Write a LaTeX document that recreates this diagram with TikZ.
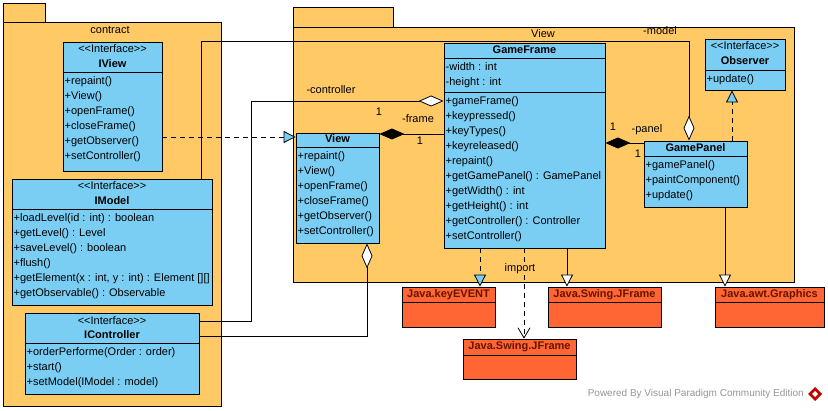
\documentclass[tikz,border=0pt]{standalone}
\usepackage{fontspec}
\setmainfont{Liberation Sans}
\usetikzlibrary{arrows.meta, fit, positioning}
\definecolor{pkgorange}{RGB}{255,202,102}
\definecolor{clsblue}{RGB}{122,206,244}
\definecolor{libred}{RGB}{255,102,51}
\definecolor{libtext}{RGB}{100,20,0}
\definecolor{footgray}{RGB}{150,150,150}
\newcommand{\intf}{<\kern0pt<Interface>\kern0pt>}

\begin{document}
\begin{tikzpicture}[x=1pt, y=-1pt, font=\fontsize{11}{13}\selectfont]
        % Define styles
        \tikzset{
            pkg/.style={draw, fill=pkgorange, line width=0.8pt, inner sep=0pt},
            cls/.style={draw, fill=clsblue, line width=0.8pt, inner sep=0pt},
            lib/.style={draw, fill=libred, line width=0.8pt, inner sep=0pt},
            txt/.style={inner sep=0pt, text height=8pt, text depth=2.5pt},
            meth/.style={txt, anchor=west},
            title/.style={txt, font=\fontsize{11}{13}\selectfont\bfseries},
            libtitle/.style={title, text=libtext},
            link/.style={line width=0.8pt},
            realize/.style={link, dash pattern=on 5pt off 4pt, -{Triangle[length=12pt, width=12pt, fill=clsblue]}},
            gen/.style={link, -{Triangle[length=12pt, width=12pt, fill=white]}},
            aggr/.style={link, -{Diamond[length=25pt, width=11pt, fill=white]}},
            comp/.style={link, -{Diamond[length=25pt, width=11pt]}},
            dep/.style={link, dash pattern=on 5pt off 4pt, -{Straight Barb[length=10pt, width=12pt]}}
        }
        \path[use as bounding box, fill=white] (0,0) rectangle (828,411);
        % Packages
        \node[pkg, fit={(3,22) (221,406)}] (contract) {};
        \node[pkg, fit={(3,3) (45,22)}] (contracttab) {};
        \node[txt] (contractname) at (110,31) {contract};
        \node[pkg, fit={(293,27) (794,282)}] (viewpkg) {};
        \node[pkg, fit={(293,7) (393,27)}] (viewpkgtab) {};
        \node[txt] (viewpkgname) at (543,35) {View};
        % IView
        \node[cls, fit={(63,42) (162,171)}] (iview) {};
        \node[txt] (iviewst) at (112.5,50) {\intf};
        \node[title] (iviewname) at (112.5,65) {IView};
        \draw[link] (iview.west |- 0,72) -- (iview.east |- 0,72);
        \foreach \m [count=\i from 0] in {+repaint(), +View(), +openFrame(), +closeFrame(), +getObserver(), +setController()}
            \node[meth] (iviewm\i) at (64.5,{82+15*\i}) {\m};
        % IModel
        \node[cls, fit={(12,179) (212,305)}] (imodel) {};
        \node[txt] (imodelst) at (112,187) {\intf};
        \node[title] (imodelname) at (112,202) {IModel};
        \draw[link] (imodel.west |- 0,209) -- (imodel.east |- 0,209);
        \foreach \m [count=\i from 0] in {{+loadLevel(id : int) : boolean}, {+getLevel() : Level}, {+saveLevel() : boolean}, +flush(), {+getElement(x : int, y : int) : Element [][]}, {+getObservable() : Observable}}
            \node[meth] (imodelm\i) at (13.5,{219+15*\i}) {\m};
        % IController
        \node[cls, fit={(25,313) (199,394)}] (icontroller) {};
        \node[txt] (icontrollerst) at (112,322) {\intf};
        \node[title] (icontrollername) at (112,336) {IController};
        \draw[link] (icontroller.west |- 0,343) -- (icontroller.east |- 0,343);
        \foreach \m [count=\i from 0] in {{+orderPerforme(Order : order)}, +start(), {+setModel(IModel : model)}}
            \node[meth] (icontrollerm\i) at (26.5,{353+15*\i}) {\m};
        % View
        \node[cls, fit={(296,133) (379,243)}] (view) {};
        \node[title] (viewname) at (337.5,140) {View};
        \draw[link] (view.west |- 0,147) -- (view.east |- 0,147);
        \foreach \m [count=\i from 0] in {+repaint(), +View(), +openFrame(), +closeFrame(), +getObserver(), +setController()}
            \node[meth] (viewm\i) at (297.5,{157+15*\i}) {\m};
        % GameFrame
        \node[cls, fit={(444,43) (605,248)}] (gameframe) {};
        \node[title] (gameframename) at (524.5,51) {GameFrame};
        \draw[link] (gameframe.west |- 0,58) -- (gameframe.east |- 0,58);
        \node[meth] (gameframea0) at (445.5,68) {-width : int};
        \node[meth] (gameframea1) at (445.5,83) {-height : int};
        \draw[link] (gameframe.west |- 0,92) -- (gameframe.east |- 0,92);
        \foreach \m [count=\i from 0] in {+gameFrame(), +keypressed(), +keyTypes(), +keyreleased(), +repaint(), {+getGamePanel() : GamePanel}, {+getWidth() : int}, {+getHeight() : int}, {+getController() : Controller}, +setController()}
            \node[meth] (gameframem\i) at (445.5,{102+15*\i}) {\m};
        % GamePanel
        \node[cls, fit={(644,141) (747,207)}] (gamepanel) {};
        \node[title] (gamepanelname) at (695.5,149) {GamePanel};
        \draw[link] (gamepanel.west |- 0,156) -- (gamepanel.east |- 0,156);
        \foreach \m [count=\i from 0] in {+gamePanel(), +paintComponent(), +update()}
            \node[meth] (gamepanelm\i) at (645.5,{166+15*\i}) {\m};
        % Observer
        \node[cls, fit={(705,39) (785,90)}] (observer) {};
        \node[txt] (observerst) at (745,47) {\intf};
        \node[title] (observername) at (745,62) {Observer};
        \draw[link] (observer.west |- 0,70) -- (observer.east |- 0,70);
        \node[meth] (observerm0) at (706.5,80) {+update()};
        % Java libraries
        \node[lib, fit={(402,287) (495,327)}] (keyevent) {};
        \node[libtitle] (keyeventname) at (448.5,295) {Java.keyEVENT};
        \draw[link] (keyevent.west |- 0,302) -- (keyevent.east |- 0,302);
        \node[lib, fit={(548,287) (661,327)}] (jframe) {};
        \node[libtitle] (jframename) at (604.5,295) {Java.Swing.JFrame};
        \draw[link] (jframe.west |- 0,302) -- (jframe.east |- 0,302);
        \node[lib, fit={(715,287) (824,327)}] (graphics) {};
        \node[libtitle] (graphicsname) at (769.5,295) {Java.awt.Graphics};
        \draw[link] (graphics.west |- 0,302) -- (graphics.east |- 0,302);
        \node[lib, fit={(463,339) (576,379)}] (jframeb) {};
        \node[libtitle] (jframebname) at (519.5,347) {Java.Swing.JFrame};
        \draw[link] (jframeb.west |- 0,355) -- (jframeb.east |- 0,355);
        % Connectors
        \coordinate (cbend1) at (251,321);
        \coordinate (cbend2) at (251,101);
        \coordinate (vbend) at (367,336);
        \coordinate (mbend1) at (201,41);
        \coordinate (mbend2) at (689,41);
        \draw[realize] (iview.east |- 0,137) -- (view.west |- 0,137);
        \draw[comp] (gameframe.west |- 0,134) -- (view.east |- 0,134);
        \draw[aggr] (icontroller.east |- cbend1) -- (cbend1) -- (cbend2) -- (gameframe.west |- cbend2);
        \draw[aggr] (icontroller.east |- vbend) -- (vbend) -- (view.south -| vbend);
        \draw[aggr] (imodel.north -| mbend1) -- (mbend1) -- (mbend2) -- (gamepanel.north -| mbend2);
        \draw[comp] (gamepanel.west |- 0,143) -- (gameframe.east |- 0,143);
        \draw[realize] (gamepanel.north -| 732,0) -- (observer.south -| 732,0);
        \draw[realize] (gameframe.south -| 480,0) -- (keyevent.north -| 480,0);
        \draw[dep] (gameframe.south -| 524,0) -- (jframeb.north -| 524,0);
        \draw[gen] (gameframe.south -| 567,0) -- (jframe.north -| 567,0);
        \draw[gen] (gamepanel.south -| 725,0) -- (graphics.north -| 725,0);
        % Role and multiplicity labels
        \node[txt] (ctrlrole) at (331,91) {-controller};
        \node[txt] (framemult1) at (379,113) {1};
        \node[txt] (framerole) at (418,120) {-frame};
        \node[txt] (framemult2) at (420,142) {1};
        \node[txt] (panelmult1) at (613,128) {1};
        \node[txt] (panelrole) at (647,130) {-panel};
        \node[txt] (panelmult2) at (638,155) {1};
        \node[txt] (modelrole) at (660,32) {-model};
        \node[txt, fill=pkgorange] (importlbl) at (520,269) {import};
        % Footer
        \node[anchor=east, inner sep=0pt, text=footgray, font=\fontsize{10}{12}\selectfont] (footer) at (804,394) {Powered By Visual Paradigm Community Edition};
        \fill[red!75!black] (815,387) -- (822,394) -- (815,401) -- (808,394) -- cycle;
        \fill[white] (815,391) -- (818,394) -- (815,397) -- (812,394) -- cycle;
\end{tikzpicture}
\end{document}
